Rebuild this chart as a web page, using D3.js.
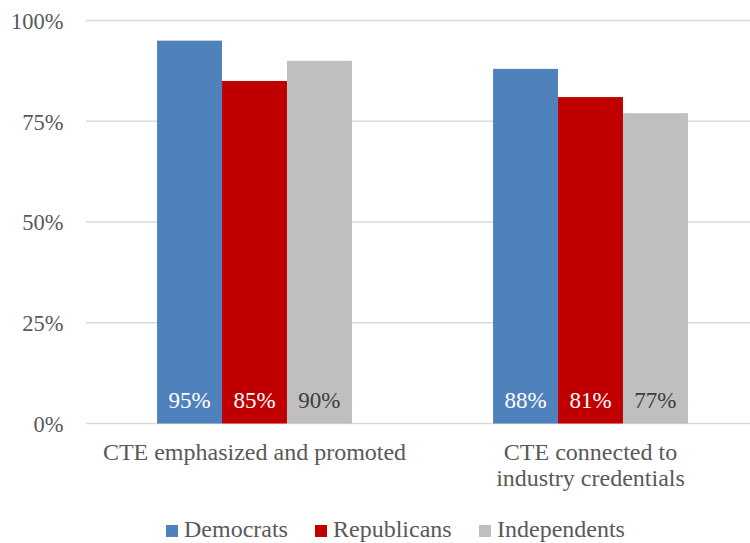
<!DOCTYPE html>
<html><head><meta charset="utf-8">
<script src="https://cdn.jsdelivr.net/npm/d3@7"></script>
<style>body{margin:0;background:#fff}svg{display:block}</style>
</head><body>
<script>
const categories = [["CTE emphasized and promoted"], ["CTE connected to", "industry credentials"]];
const seriesNames = ["Democrats", "Republicans", "Independents"];
const democrats = [95, 88];
const republicans = [85, 81];
const independents = [90, 77];
const yTicks = [0, 25, 50, 75, 100];

const series = [democrats, republicans, independents];
const colors = ["#4f81bd", "#c00000", "#bfbfbf"];
const labelColors = ["#ffffff", "#ffffff", "#404040"];

const W = 750, H = 543;
const svg = d3.select("body").append("svg").attr("width", W).attr("height", H);
const FF = "Liberation Serif";

const y = d3.scaleLinear().domain([0, 100]).range([423.5, 20.5]);
const x0 = d3.scaleBand().domain([0, 1]).range([86.5, 758.5]).paddingInner(0.42).paddingOuter(0.21);
const x1 = d3.scaleBand().domain([0, 1, 2]).range([0, x0.bandwidth()]);

// gridlines
svg.append("g").selectAll("line").data(yTicks).join("line")
  .attr("x1", 86).attr("x2", 750)
  .attr("y1", d => y(d)).attr("y2", d => y(d))
  .attr("stroke", "#d9d9d9").attr("stroke-width", 1.5);

// y axis labels
const yAxis = d3.axisLeft(y).tickValues(yTicks).tickFormat(d => d + "%").tickSize(0).tickPadding(0);
const ga = svg.append("g").attr("transform", "translate(63.5,0)").call(yAxis);
ga.select(".domain").remove();
ga.selectAll("text").style("font-family", FF).style("font-size", "22.5px").attr("fill", "#595959").attr("dy", "0.35em");

// bars
const groups = svg.append("g").selectAll("g").data(categories.map((c, i) => i)).join("g")
  .attr("transform", i => `translate(${x0(i)},0)`);
groups.selectAll("rect").data(i => series.map((s, k) => ({k, v: s[i]}))).join("rect")
  .attr("x", d => x1(d.k)).attr("width", x1.bandwidth())
  .attr("y", d => y(d.v)).attr("height", d => y(0) - y(d.v))
  .attr("fill", d => colors[d.k]);
groups.selectAll("text.val").data(i => series.map((s, k) => ({k, v: s[i]}))).join("text")
  .attr("class", "val")
  .attr("x", d => x1(d.k) + x1.bandwidth() / 2).attr("y", y(0) - 16)
  .attr("text-anchor", "middle").style("font-family", FF).style("font-size", "23px")
  .attr("fill", d => labelColors[d.k]).text(d => d.v + "%");

// category labels
categories.forEach((lines, i) => {
  const t = svg.append("text").attr("text-anchor", "middle").style("font-family", FF).style("font-size", "24px").attr("fill", "#595959");
  lines.forEach((ln, j) => {
    t.append("tspan").attr("x", x0(i) + x0.bandwidth() / 2).attr("y", 460 + j * 26).text(ln);
  });
});

// legend
const legendX = [166, 315, 479];
const lg = svg.append("g");
seriesNames.forEach((n, k) => {
  lg.append("rect").attr("x", legendX[k]).attr("y", 525).attr("width", 12).attr("height", 12).attr("fill", colors[k]);
  lg.append("text").attr("x", legendX[k] + 18).attr("y", 537).style("font-family", FF).style("font-size", "24px").attr("fill", "#595959").text(n);
});
</script>
</body></html>
